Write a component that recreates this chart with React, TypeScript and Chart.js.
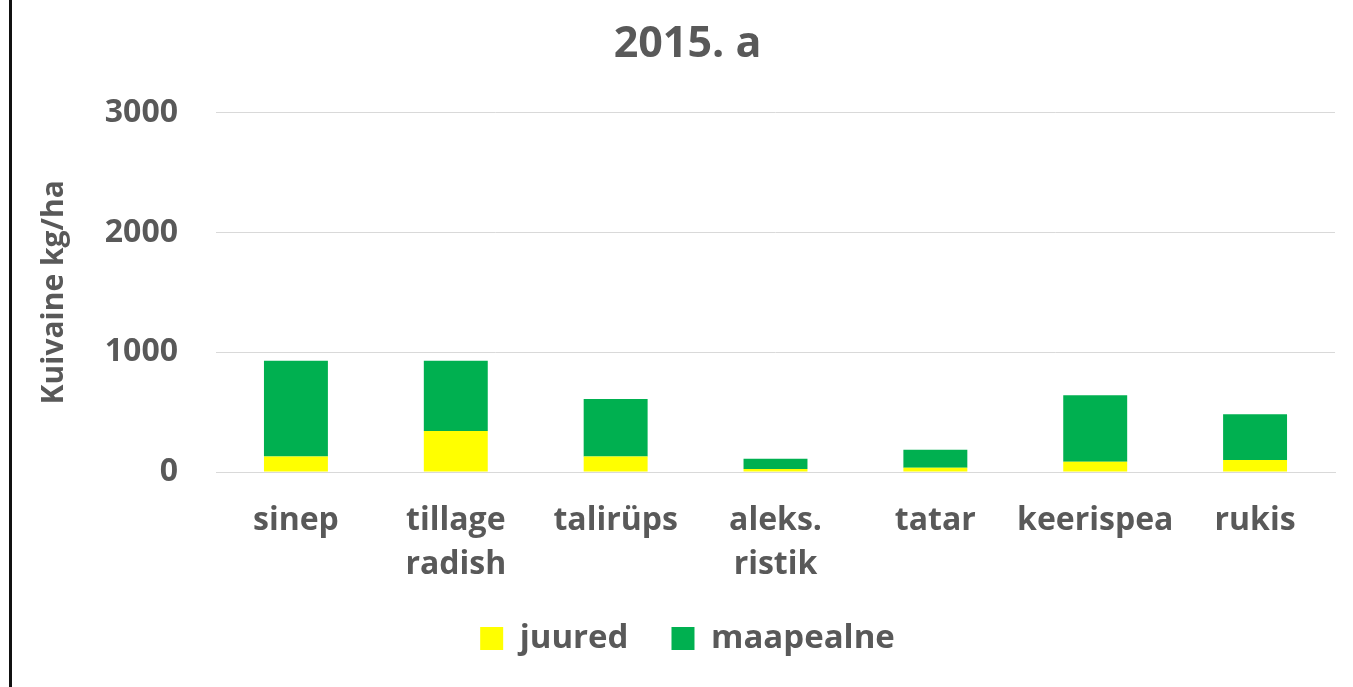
import React, { useEffect, useRef } from "react";
import { Chart, registerables } from "chart.js";

Chart.register(...registerables);

const chartTitle = "2015. a";
const yAxisTitle = "Kuivaine kg/ha";
const categories: (string | string[])[] = [
  "sinep",
  ["tillage", "radish"],
  "talirüps",
  ["aleks.", "ristik"],
  "tatar",
  "keerispea",
  "rukis",
];
const juured = [130, 343, 130, 25, 36, 86, 100];
const maapealne = [798, 585, 479, 85, 149, 554, 382];
const yTicks = [0, 1000, 2000, 3000];

const TEXT = "#595959";
const FONT = "'Open Sans', 'DejaVu Sans', sans-serif";

export default function App() {
  const ref = useRef<HTMLCanvasElement | null>(null);

  useEffect(() => {
    if (!ref.current) return;
    const chart = new Chart(ref.current, {
      type: "bar",
      data: {
        labels: categories,
        datasets: [
          {
            label: "juured",
            data: juured,
            backgroundColor: "#FFFF00",
            borderWidth: 0,
            barPercentage: 0.4,
            categoryPercentage: 1,
          },
          {
            label: "maapealne",
            data: maapealne,
            backgroundColor: "#00B050",
            borderWidth: 0,
            barPercentage: 0.4,
            categoryPercentage: 1,
          },
        ],
      },
      options: {
        responsive: false,
        animation: false,
        layout: { padding: { top: 0, left: 40, right: 18, bottom: 22 } },
        plugins: {
          title: {
            display: true,
            text: chartTitle,
            color: TEXT,
            font: { family: FONT, size: 43, weight: "bold", lineHeight: 1.2 },
            padding: { top: 19, bottom: 42 },
          },
          legend: {
            position: "bottom",
            labels: {
              color: TEXT,
              font: { family: FONT, size: 33, weight: "bold" },
              boxWidth: 23,
              boxHeight: 23,
              padding: 43,
            },
          },
          tooltip: { enabled: false },
        },
        scales: {
          x: {
            stacked: true,
            grid: { display: false, drawTicks: false },
            border: { display: true, color: "#D9D9D9", width: 1 },
            ticks: {
              color: TEXT,
              font: { family: FONT, size: 32, weight: "bold", lineHeight: 1.4 },
              padding: 26,
              maxRotation: 0,
              autoSkip: false,
            },
            afterFit: (scale: any) => {
              scale.height = 107;
            },
          },
          y: {
            stacked: true,
            min: 0,
            max: 3000,
            afterBuildTicks: (scale: any) => {
              scale.ticks = yTicks.map((v) => ({ value: v }));
            },
            grid: { color: "#D9D9D9", lineWidth: 1, drawTicks: false },
            border: { display: false },
            ticks: {
              color: TEXT,
              font: { family: FONT, size: 32, weight: "bold" },
              padding: 38,
              callback: (v: any) => String(v),
            },
            title: {
              display: true,
              text: yAxisTitle,
              color: TEXT,
              font: { family: FONT, size: 30, weight: "bold", lineHeight: 1 },
              padding: { top: -1, bottom: 0 },
            },
            afterFit: (scale: any) => {
              scale.width = 176;
            },
          },
        },
      },
    });
    return () => chart.destroy();
  }, []);

  return (
    <div style={{ position: "absolute", left: 0, top: 0, width: 1353, height: 687, background: "#fff" }}>
      <canvas ref={ref} width={1353} height={687} style={{ display: "block" }} />
      <div style={{ position: "absolute", left: 9, top: 0, width: 3, height: 687, background: "#111" }} />
    </div>
  );
}
